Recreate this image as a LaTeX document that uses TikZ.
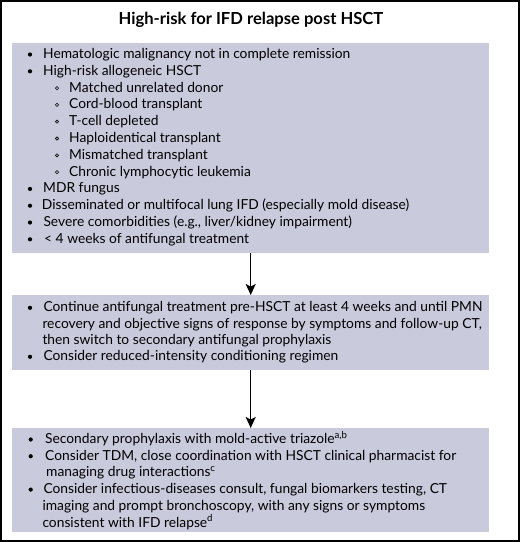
\documentclass[tikz,border=0pt]{standalone}
\usepackage{fontspec}
\setmainfont{Lato}
\usetikzlibrary{arrows.meta}
\definecolor{boxc}{RGB}{201,202,220}
\tikzset{
  boxnode/.style={fill=boxc, draw=none, anchor=north west, inner sep=0pt},
  txt/.style={anchor=base west, inner sep=0pt, font=\fontsize{13.8pt}{16pt}\selectfont},
  ttl/.style={anchor=base, inner sep=0pt, font=\fontsize{16.6pt}{19pt}\selectfont\bfseries},
  arr/.style={line width=1.3pt, -{Stealth[length=11pt,width=10pt,inset=2.5pt]}},
}
\newcommand{\blt}[2]{\fill (#1,#2-4) circle (2.1pt);}
\newcommand{\sblt}[2]{\draw[line width=0.6pt] (#1,#2-4) circle (1.6pt);}
\begin{document}
\begin{tikzpicture}[x=1pt,y=-1pt]
\useasboundingbox (0,0) rectangle (520,542);
\draw[line width=1.6pt] (0.8,0.8) rectangle (519.2,541.2);
\node[ttl] (title) at (251,24) {High-risk for IFD relapse post HSCT};
% boxes
\node[boxnode, minimum width=477pt, minimum height=210pt] (b1) at (12,43) {};
\node[boxnode, minimum width=477pt, minimum height=75pt] (b2) at (12,295) {};
\node[boxnode, minimum width=477pt, minimum height=104pt] (b3) at (12,428) {};
\draw[arr] (b1.south) -- (b2.north);
\draw[arr] (b2.south) -- (b3.north);
% box 1
\blt{30}{58.5}\node[txt] (a1) at (43,58.5) {Hematologic malignancy not in complete remission};
\blt{30}{75.3}\node[txt] (a2) at (43,75.3) {High-risk allogeneic HSCT};
\sblt{57}{92.1}\node[txt] (a3) at (69,92.1) {Matched unrelated donor};
\sblt{57}{108.9}\node[txt] (a4) at (69,108.9) {Cord-blood transplant};
\sblt{57}{125.7}\node[txt] (a5) at (69,125.7) {T-cell depleted};
\sblt{57}{142.5}\node[txt] (a6) at (69,142.5) {Haploidentical transplant};
\sblt{57}{159.3}\node[txt] (a7) at (69,159.3) {Mismatched transplant};
\sblt{57}{176.1}\node[txt] (a8) at (69,176.1) {Chronic lymphocytic leukemia};
\blt{30}{192.9}\node[txt] (a9) at (43,192.9) {MDR fungus};
\blt{30}{209.7}\node[txt] (a10) at (41.7,209.7) {Disseminated or multifocal lung IFD (especially mold disease)};
\blt{30}{226.5}\node[txt] (a11) at (43.3,226.5) {Severe comorbidities (e.g., liver/kidney impairment)};
\blt{30}{243.3}\node[txt] (a12) at (44,243.3) {< 4 weeks of antifungal treatment};
% box 2
\blt{30}{311.8}\node[txt] (c1) at (43.3,311.8) {Continue antifungal treatment pre-HSCT at least 4 weeks and until PMN};
\node[txt] (c2) at (42.3,328.1) {recovery and objective signs of response by symptoms and follow-up CT,};
\node[txt] (c3) at (42.3,344.4) {then switch to secondary antifungal prophylaxis};
\blt{30}{360.8}\node[txt] (c4) at (43.3,360.8) {Consider reduced-intensity conditioning regimen};
% box 3
\blt{30.7}{443.5}\node[txt] (d1) at (45,443.5) {Secondary prophylaxis with mold-active triazole\textsuperscript{a,b}};
\blt{30.7}{460.2}\node[txt] (d2) at (45,460.2) {Consider TDM, close coordination with HSCT clinical pharmacist for};
\node[txt] (d3) at (46,476.9) {managing drug interactions\textsuperscript{c}};
\blt{30.7}{493.6}\node[txt] (d4) at (43.3,493.6) {Consider infectious-diseases consult, fungal biomarkers testing, CT};
\node[txt] (d5) at (42.3,510.3) {imaging and prompt bronchoscopy, with any signs or symptoms};
\node[txt] (d6) at (42.3,527) {consistent with IFD relapse\textsuperscript{d}};
\end{tikzpicture}
\end{document}
